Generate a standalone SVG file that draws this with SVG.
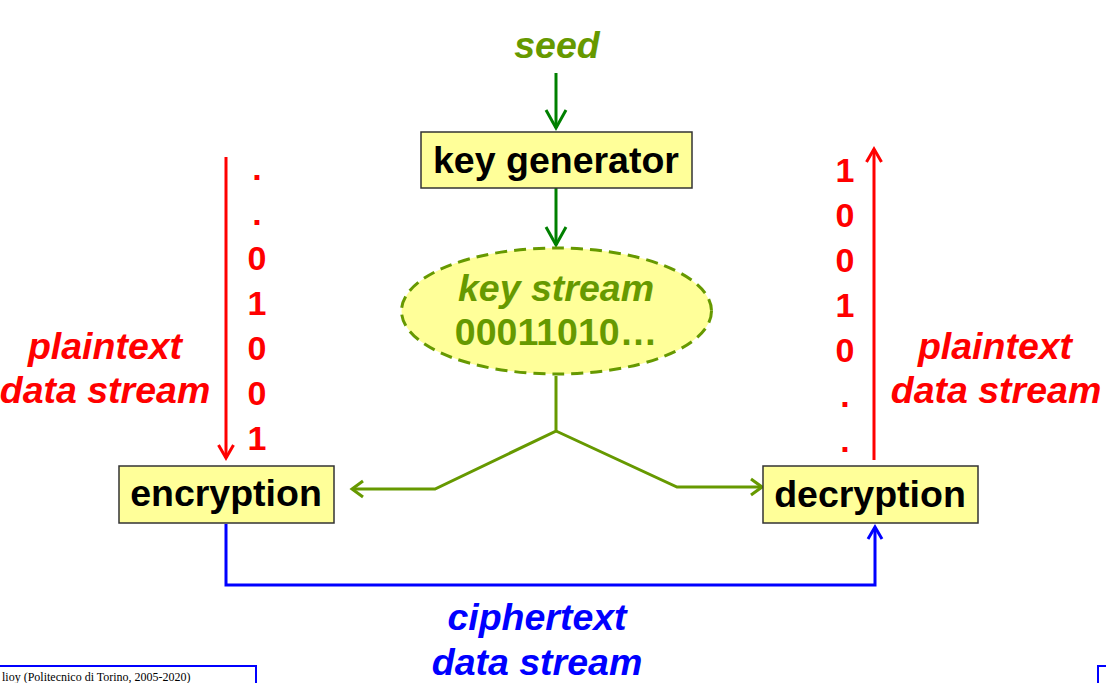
<svg xmlns="http://www.w3.org/2000/svg" width="1106" height="683" viewBox="0 0 1106 683">
<style>
  .box { fill: #ffff99; stroke: #333333; stroke-width: 1.5; }
  .lbl { font-family: "Liberation Sans", Arial, sans-serif; font-weight: bold; font-size: 37.5px; text-anchor: middle; }
  .it { font-style: italic; }
  .black { fill: #000000; }
  .red { fill: #ff0000; }
  .blue { fill: #0000ff; }
  .olive { fill: #669900; }
  .dig { font-family: "Liberation Sans", Arial, sans-serif; font-weight: bold; font-size: 34px; text-anchor: middle; fill: #ff0000; }
  .conn { fill: none; stroke-width: 3; }
</style>
<defs>
  <marker id="ahG" markerUnits="userSpaceOnUse" viewBox="-22 -12 26 24" refX="0" refY="0" markerWidth="26" markerHeight="24" orient="auto" overflow="visible">
    <path d="M-18,-10 L0,0 L-18,10" fill="none" stroke="#008000" stroke-width="3"/>
  </marker>
  <marker id="ahO" markerUnits="userSpaceOnUse" viewBox="-22 -12 26 24" refX="0" refY="0" markerWidth="26" markerHeight="24" orient="auto" overflow="visible">
    <path d="M-11,-8 L0,0 L-11,8" fill="none" stroke="#669900" stroke-width="3"/>
  </marker>
  <marker id="ahR" markerUnits="userSpaceOnUse" viewBox="-22 -12 26 24" refX="0" refY="0" markerWidth="26" markerHeight="24" orient="auto" overflow="visible">
    <path d="M-13,-7.5 L0,0 L-13,7.5" fill="none" stroke="#ff0000" stroke-width="3"/>
  </marker>
  <marker id="ahB" markerUnits="userSpaceOnUse" viewBox="-22 -12 26 24" refX="0" refY="0" markerWidth="26" markerHeight="24" orient="auto" overflow="visible">
    <path d="M-12,-7 L0,0 L-12,7" fill="none" stroke="#0000ff" stroke-width="3"/>
  </marker>
</defs>

<g id="connectors">
  <line class="conn" x1="556" y1="73" x2="556" y2="128" stroke="#008000" marker-end="url(#ahG)"/>
  <line class="conn" x1="556" y1="188" x2="556" y2="245" stroke="#008000" marker-end="url(#ahG)"/>
  <polyline class="conn" points="556,376 556,431 435,489 352,489" stroke="#669900" marker-end="url(#ahO)"/>
  <polyline class="conn" points="556,431 677,487 762,487" stroke="#669900" marker-end="url(#ahO)"/>
  <line class="conn" x1="226" y1="157" x2="226" y2="458" stroke="#ff0000" marker-end="url(#ahR)"/>
  <line class="conn" x1="874" y1="460" x2="874" y2="149" stroke="#ff0000" marker-end="url(#ahR)"/>
  <polyline class="conn" points="226,524 226,585 875,585 875,527" stroke="#0000ff" marker-end="url(#ahB)"/>
</g>

<g id="seed">
  <text class="lbl it olive" x="557" y="58">seed</text>
</g>

<g id="key-generator">
  <rect class="box" x="421" y="132" width="271" height="56"/>
  <text class="lbl black" x="556" y="173">key generator</text>
</g>

<g id="key-stream">
  <ellipse cx="556.5" cy="311" rx="155" ry="63" fill="#ffff99" stroke="#669900" stroke-width="3" stroke-dasharray="12,7"/>
  <text class="lbl it olive" x="556" y="301">key stream</text>
  <text class="lbl olive" x="556" y="345">00011010…</text>
</g>

<g id="encryption">
  <rect class="box" x="119" y="466" width="215" height="57"/>
  <text class="lbl black" x="226" y="506">encryption</text>
</g>

<g id="decryption">
  <rect class="box" x="763" y="466" width="215" height="57"/>
  <text class="lbl black" x="870" y="507">decryption</text>
</g>

<g id="plaintext-in">
  <text class="lbl it red" x="105" y="359">plaintext</text>
  <text class="lbl it red" x="105" y="403">data stream</text>
  <text class="dig" x="257" y="180">.</text>
  <text class="dig" x="257" y="225">.</text>
  <text class="dig" x="257" y="270">0</text>
  <text class="dig" x="257" y="315">1</text>
  <text class="dig" x="257" y="360">0</text>
  <text class="dig" x="257" y="405">0</text>
  <text class="dig" x="257" y="450">1</text>
</g>

<g id="plaintext-out">
  <text class="lbl it red" x="995" y="359">plaintext</text>
  <text class="lbl it red" x="996" y="403">data stream</text>
  <text class="dig" x="845" y="182">1</text>
  <text class="dig" x="845" y="227">0</text>
  <text class="dig" x="845" y="272">0</text>
  <text class="dig" x="845" y="317">1</text>
  <text class="dig" x="845" y="362">0</text>
  <text class="dig" x="845" y="407">.</text>
  <text class="dig" x="845" y="452">.</text>
</g>

<g id="ciphertext">
  <text class="lbl it blue" x="537" y="630">ciphertext</text>
  <text class="lbl it blue" x="537" y="675">data stream</text>
</g>

<g id="footer">
  <rect x="-5" y="666" width="261" height="40" fill="none" stroke="#0000ff" stroke-width="2"/>
  <text x="2" y="681" font-family="Liberation Serif, Times New Roman, serif" font-size="12" fill="#000000">lioy (Politecnico di Torino, 2005-2020)</text>
  <rect x="1098" y="666" width="20" height="40" fill="none" stroke="#0000ff" stroke-width="2"/>
</g>
</svg>
